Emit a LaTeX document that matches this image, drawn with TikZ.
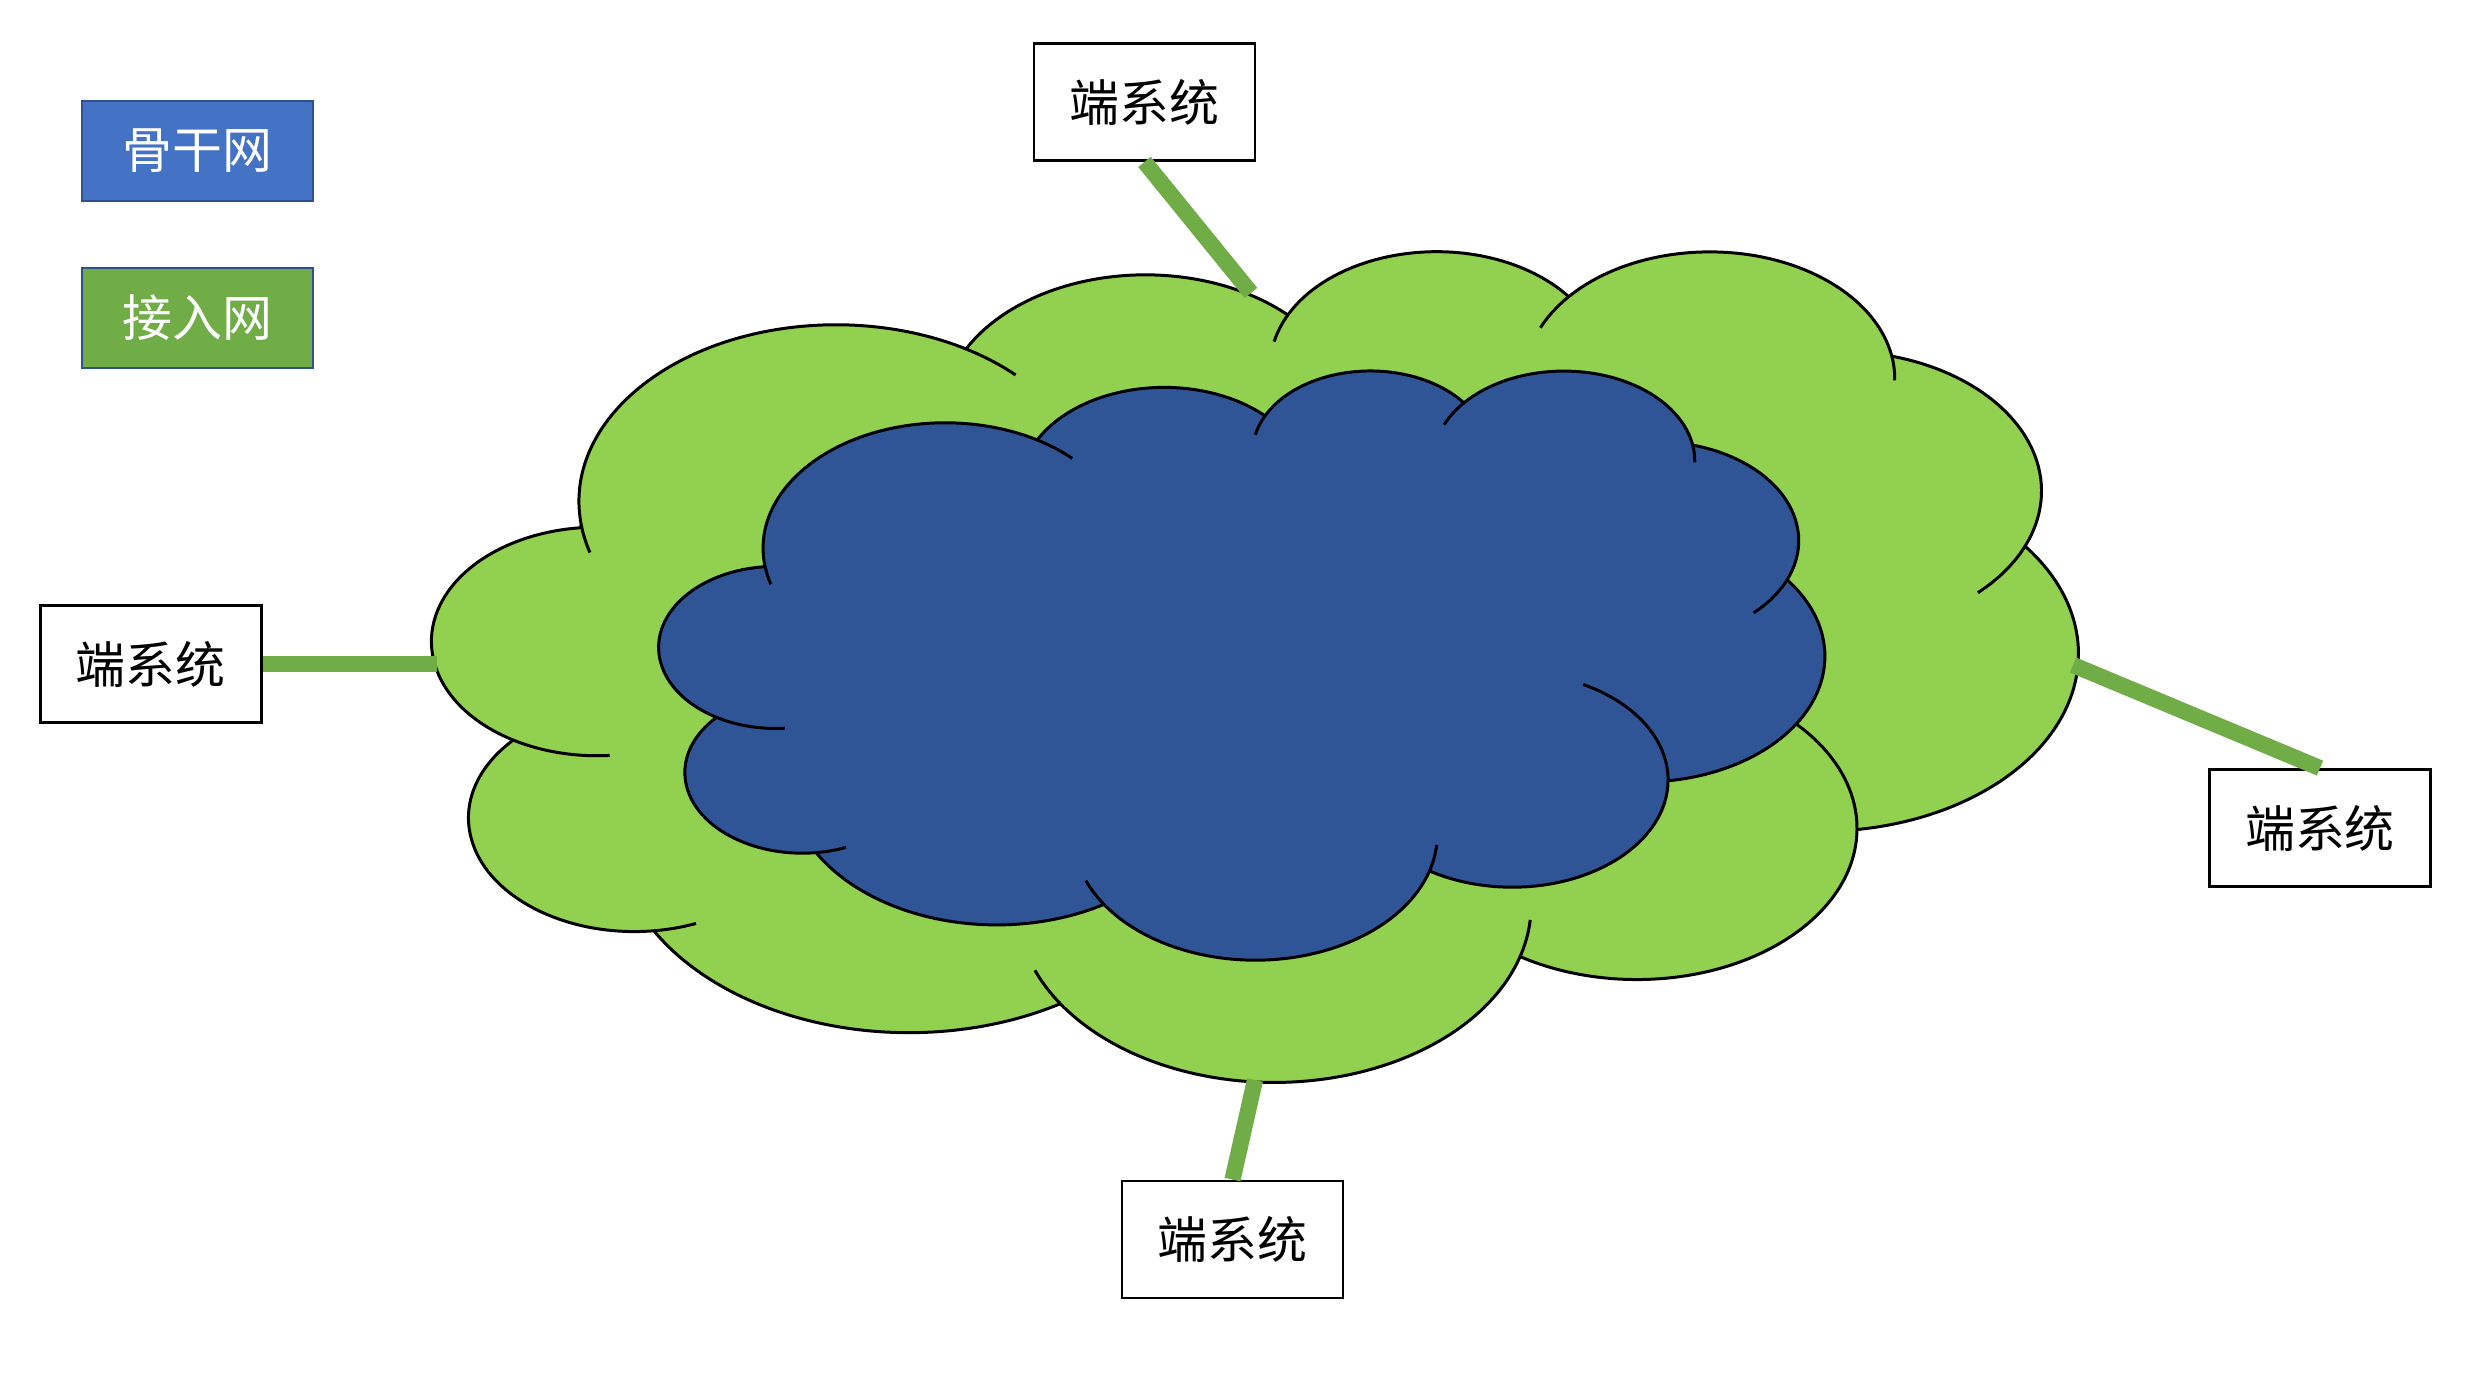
\documentclass[tikz,border=0pt]{standalone}
\usepackage{fontspec}
\newfontfamily\cjk{Noto Sans CJK SC}
\definecolor{gfill}{HTML}{92D050}
\definecolor{bfill}{HTML}{2F5597}
\definecolor{conng}{HTML}{70AD47}
\definecolor{legblue}{HTML}{4472C4}
\definecolor{leggreen}{HTML}{70AD47}
\definecolor{legedge}{HTML}{2F528F}
\makeatletter
% forward elliptic arc (visual angles, as in DrawingML arcTo)
\newcommand\mkarcf[5]{%
  \pgfmathsetmacro\ca@t{atan2((#2)*sin(#4),(#3)*cos(#4))}%
  \pgfmathsetmacro\ca@u{atan2((#2)*sin((#4)+(#5)),(#3)*cos((#4)+(#5)))}%
  \pgfmathsetmacro\ca@d{mod((\ca@u)-(\ca@t)+720,360)}%
  \expandafter\xdef\csname #1\endcsname{arc[x radius=#2, y radius=#3, start angle=\ca@t, delta angle=\ca@d]}%
}
% backward elliptic arc
\newcommand\mkarcb[5]{%
  \pgfmathsetmacro\ca@t{atan2((#2)*sin(#4),(#3)*cos(#4))}%
  \pgfmathsetmacro\ca@u{atan2((#2)*sin((#4)-(#5)),(#3)*cos((#4)-(#5)))}%
  \pgfmathsetmacro\ca@d{0-mod((\ca@t)-(\ca@u)+720,360)}%
  \expandafter\xdef\csname #1\endcsname{arc[x radius=#2, y radius=#3, start angle=\ca@t, delta angle=\ca@d]}%
}
\makeatother
% outer outline of the cloud (path units = 1/100 of the 43200 frame)
\mkarcf{clA}{67.53}{91.90}{-190.48748}{123.78053}
\mkarcf{clB}{53.33}{72.67}{-144.10238}{89.94523}
\mkarcf{clC}{43.65}{59.45}{-145.80792}{99.72302}
\mkarcf{clD}{48.57}{65.95}{-130.98607}{117.24173}
\mkarcf{clE}{53.33}{72.73}{-78.70888}{109.02692}
\mkarcf{clF}{67.75}{92.20}{-46.26725}{130.26900}
\mkarcf{clG}{57.85}{78.67}{0.62502}{114.03333}
\mkarcf{clH}{67.52}{92.15}{22.45160}{115.17255}
\mkarcf{clI}{77.20}{105.43}{66.24263}{75.71102}
\mkarcf{clJ}{43.60}{59.18}{-274.94208}{146.73557}
\mkarcf{clK}{43.45}{59.45}{-246.82850}{152.51885}
% inner arcs
\mkarcb{inA}{67.53}{91.90}{169.51252}{11.86}
\mkarcf{inB}{67.53}{91.90}{-66.70695}{12.32}
\mkarcb{inC}{43.65}{59.45}{-145.80792}{17.69}
\mkarcb{inD}{48.57}{65.95}{-130.98607}{18.20}
\mkarcf{inE}{48.57}{65.95}{-13.74434}{14.86}
\mkarcf{inF}{53.33}{72.73}{30.31804}{25.0}
\mkarcb{inG}{57.85}{78.67}{0.62502}{70.0}
\mkarcb{inH}{67.52}{92.15}{22.45160}{16.0}
\mkarcf{inI}{67.52}{92.15}{137.62415}{14.08}
\mkarcb{inJ}{43.60}{59.18}{85.05792}{11.45}
\mkarcb{inK}{43.45}{59.45}{113.17150}{26.43}
\newcommand\cloudshape[2]{%
  \path[cloudline, fill=#2] (39,143.7) coordinate (#1S)
    \clA coordinate (#1J1) \clB coordinate (#1J2) \clC coordinate (#1J3)
    \clD coordinate (#1J4) \clE coordinate (#1J5) \clF coordinate (#1J6)
    \clG coordinate (#1J7) \clH coordinate (#1J8) \clI coordinate (#1J9)
    \clJ coordinate (#1J10) \clK -- cycle;
  \draw[cloudline] (#1S) \inA;
  \draw[cloudline] (#1J1) \inB;
  \draw[cloudline] (#1J2) \inC;
  \draw[cloudline] (#1J3) \inD;
  \draw[cloudline] (#1J4) \inE;
  \draw[cloudline] (#1J5) \inF;
  \draw[cloudline] (#1J6) \inG;
  \draw[cloudline] (#1J7) \inH;
  \draw[cloudline] (#1J8) \inI;
  \draw[cloudline] (#1J9) \inJ;
  \draw[cloudline] (#1J10) \inK;
}
\begin{document}
\begin{tikzpicture}[x=0.01cm, y=-0.01cm,
  cloudline/.style={draw=black, line width=0.85pt, line join=round},
  endsys/.style={draw=black, line width=0.78pt, fill=white, minimum width=2.21cm,
    minimum height=1.17cm, inner sep=0pt, font=\cjk\fontsize{14.2}{16}\selectfont},
  legendbox/.style={draw=legedge, line width=0.78pt, text=white, minimum width=2.31cm,
    minimum height=1.0cm, inner sep=0pt, font=\cjk\fontsize{14.2}{16}\selectfont},
  conn/.style={draw=conng, line width=4.6pt}]
\useasboundingbox (0,0) rectangle (2480,1386);
\fill[white] (0,0) rectangle (2480,1386);
% access network (green cloud)
\begin{scope}[shift={(432.8,249.0)}, x=0.038063cm, y=-0.019205cm]
  \cloudshape{g}{gfill}
\end{scope}
% backbone (blue cloud)
\begin{scope}[shift={(659.6,369.05)}, x=0.026946cm, y=-0.013629cm]
  \cloudshape{b}{bfill}
\end{scope}
% legend
\node[legendbox, fill=legblue] (legA) at (197.5,151) {骨干网};
\node[legendbox, fill=leggreen] (legB) at (197.5,318) {接入网};
% end systems
\node[endsys] (top) at (1144.5,102) {端系统};
\node[endsys] (left) at (150.7,664) {端系统};
\node[endsys] (right) at (2320,828) {端系统};
\node[endsys] (bottom) at (1232.5,1239.5) {端系统};
% attachment points on the cloud
\coordinate (cT) at (1251,293);
\coordinate (cL) at (437,664);
\coordinate (cR) at (2073,665);
\coordinate (cB) at (1255,1080);
\draw[conn] (top.south) -- (cT);
\draw[conn] (left.east) -- (cL);
\draw[conn] (right.north) -- (cR);
\draw[conn] (bottom.north) -- (cB);
\end{tikzpicture}
\end{document}
